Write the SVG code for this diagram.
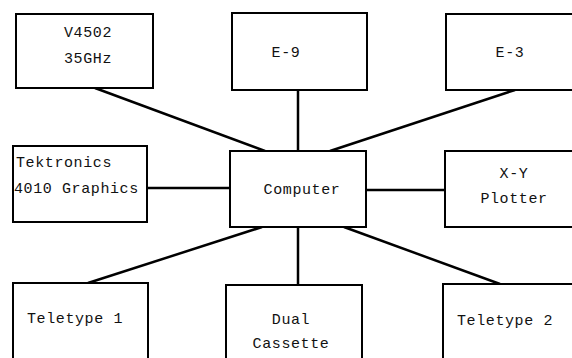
<svg xmlns="http://www.w3.org/2000/svg" width="572" height="358" viewBox="0 0 572 358">
<style>
.box{fill:#fff;stroke:#000;stroke-width:2}
.t{font-family:"Liberation Mono","Courier New",monospace;font-size:15px;letter-spacing:0.6px;fill:#111}
.c{text-anchor:middle}
.ln{stroke:#000;stroke-width:2.5;fill:none}
</style>
<rect width="572" height="358" fill="#fff"/>
<g id="connectors">
<line class="ln" x1="95" y1="88" x2="265" y2="151"/>
<line class="ln" x1="298" y1="90" x2="298" y2="151"/>
<line class="ln" x1="515" y1="90" x2="330" y2="151"/>
<line class="ln" x1="147" y1="188" x2="230" y2="188"/>
<line class="ln" x1="366" y1="190" x2="445" y2="190"/>
<line class="ln" x1="88" y1="283" x2="262" y2="227"/>
<line class="ln" x1="298" y1="227" x2="298" y2="285"/>
<line class="ln" x1="500" y1="284" x2="344" y2="227"/>
</g>
<g id="v4502"><rect class="box" x="16" y="14" width="137" height="74"/><text class="t c" x="88" y="37">V4502</text><text class="t c" x="88" y="63">35GHz</text></g>
<g id="e9"><rect class="box" x="232" y="13" width="135" height="77"/><text class="t c" x="286" y="57">E-9</text></g>
<g id="e3"><rect class="box" x="446" y="14" width="140" height="76"/><text class="t c" x="510" y="57">E-3</text></g>
<g id="tektronics"><rect class="box" x="13" y="146" width="134" height="76"/><text class="t" x="16" y="167">Tektronics</text><text class="t" x="14" y="193">4010 Graphics</text></g>
<g id="computer"><rect class="box" x="230" y="151" width="136" height="76"/><text class="t c" x="302" y="194">Computer</text></g>
<g id="xy"><rect class="box" x="445" y="151" width="140" height="76"/><text class="t c" x="514" y="178">X-Y</text><text class="t c" x="514" y="203">Plotter</text></g>
<g id="teletype1"><rect class="box" x="13" y="283" width="135" height="90"/><text class="t" x="27" y="323">Teletype 1</text></g>
<g id="cassette"><rect class="box" x="226" y="285" width="136" height="90"/><text class="t c" x="291" y="324">Dual</text><text class="t c" x="291" y="348">Cassette</text></g>
<g id="teletype2"><rect class="box" x="443" y="284" width="140" height="90"/><text class="t" x="457" y="325">Teletype 2</text></g>
</svg>
